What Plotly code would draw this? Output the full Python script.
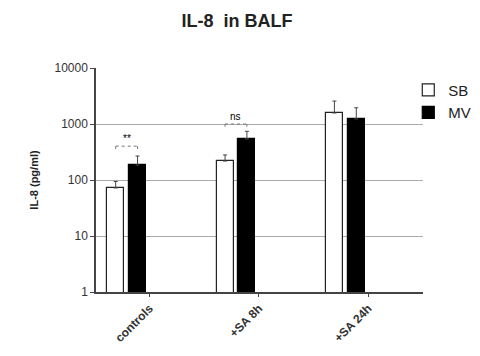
import plotly.graph_objects as go
import numpy as np

categories = ["controls", "+SA 8h", "+SA 24h"]
sb_values = [72, 218, 1570]
sb_err = [22, 62, 1000]
mv_values = [185, 540, 1230]
mv_err = [83, 200, 720]
sig_labels = ["**", "ns", ""]
y_ticks = [1, 10, 100, 1000, 10000]

x = np.arange(len(categories))
off_sb, off_mv, bw = -0.31, -0.11, 0.155

fig = go.Figure()
fig.add_trace(go.Bar(
    x=x + off_sb, y=sb_values, width=bw, name="SB",
    marker=dict(color="white", line=dict(color="#222", width=1.2)),
    error_y=dict(type="data", array=sb_err, arrayminus=[0]*3, symmetric=False,
                 color="#444", thickness=1, width=2),
))
fig.add_trace(go.Bar(
    x=x + off_mv, y=mv_values, width=bw, name="MV",
    marker=dict(color="black", line=dict(color="black", width=1.2)),
    error_y=dict(type="data", array=mv_err, arrayminus=[0]*3, symmetric=False,
                 color="#444", thickness=1, width=2),
))

# significance brackets derived from data
for i, lab in enumerate(sig_labels):
    if not lab:
        continue
    top = max(sb_values[i] + sb_err[i], mv_values[i] + mv_err[i])
    yb = top * (1.5 if i == 0 else 1.35)
    x0, x1 = x[i] + off_sb, x[i] + off_mv
    fig.add_shape(type="line", x0=x0, x1=x1, y0=yb, y1=yb, line=dict(color="#777", width=1, dash="dot"))
    fig.add_shape(type="line", x0=x0, x1=x0, y0=yb, y1=yb / 1.12, line=dict(color="#777", width=1))
    fig.add_shape(type="line", x0=x1, x1=x1, y0=yb, y1=yb / 1.12, line=dict(color="#777", width=1))
    fig.add_annotation(x=(x0 + x1) / 2, y=np.log10(yb), text=lab, showarrow=False,
                       yanchor="bottom", yshift=0, font=dict(size=10, color="black", family="Arial"))

fig.update_layout(
    width=480, height=356,
    margin=dict(l=88, r=57, t=60, b=72),
    paper_bgcolor="white", plot_bgcolor="white",
    font=dict(family="Arial, Liberation Sans", color="#222"),
    title=dict(text="<b>IL-8  in BALF</b>", x=0.477, xanchor="center", y=0.965, yanchor="middle",
               font=dict(size=18, color="#222")),
    showlegend=True,
    legend=dict(x=0.955, y=0.975, xanchor="left", yanchor="top", font=dict(size=15, color="#222"),
                bgcolor="rgba(0,0,0,0)", itemwidth=30),
    barmode="overlay",
    bargap=0,
)
fig.update_xaxes(
    range=[-0.49, 2.5], tickvals=list(x), ticktext=[f"<b>{c}</b>" for c in categories],
    tickangle=-45, tickfont=dict(size=12, color="#333"),
    showline=True, linecolor="#444", linewidth=1.5, ticks="outside", ticklen=3,
    tickcolor="#444", showgrid=False, zeroline=False,
)
fig.update_yaxes(
    type="log", range=[0, 4], tickvals=y_ticks, ticktext=[str(t) for t in y_ticks],
    tickfont=dict(size=12, color="#333"),
    showline=True, linecolor="#444", linewidth=1.5, ticks="outside", ticklen=4, tickcolor="#444",
    showgrid=True, gridcolor="#aaa", gridwidth=1.2, zeroline=False,
    title=dict(text="<b>IL-8 (pg/ml)</b>", font=dict(size=11, color="#222"), standoff=14),
)
fig.write_html("out.html")
